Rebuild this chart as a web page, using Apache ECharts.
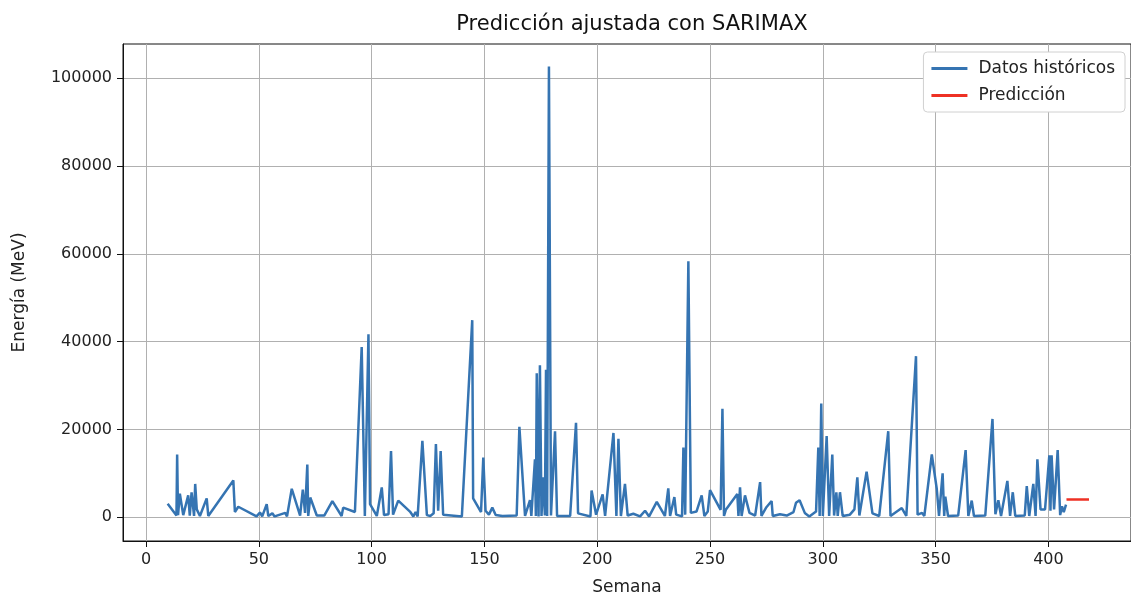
<!DOCTYPE html>
<html>
<head>
<meta charset="utf-8">
<script src="https://cdn.jsdelivr.net/npm/echarts@6/dist/echarts.min.js"></script>
<style>
  html, body { margin: 0; padding: 0; background: #fff; }
  #grafico { width: 1131px; height: 601px; }
</style>
</head>
<body>
<div id="grafico"></div>
<script>
// Semanas y energía de los datos históricos
var semanas = [
  9.6, 13.5, 13.8, 14.2, 15, 16.5, 18.7, 19.4, 20.2, 21.3, 21.8, 22.5, 23.9, 26.9, 27.6,
  38.7, 39.4, 40.9, 49, 50.5, 51.5, 53.5, 54.2, 56, 57, 61.7, 62.5, 64.6, 68.3, 69.5,
  70.5, 71.5, 71.9, 72.8, 75.7, 79, 82.6, 86.7, 87.4, 92.6, 95.6, 97, 98.6, 99.3, 102.3,
  104.5, 105.5, 107.5, 108.6, 109.5, 111.8, 117, 118.5, 119.5, 120.4, 122.5, 124.5, 126, 127.5, 128.5,
  129.5, 130.6, 131.7, 140, 144.6, 145, 148.5, 149.5, 150.5, 152, 153.5, 155, 158, 164.3, 165.5,
  168, 170.2, 170.8, 172.4, 172.8, 173.2, 174, 174.6, 175.3, 176.1, 176.8, 177.3, 177.8, 178.6, 179.5,
  181.3, 182.2, 188, 190.6, 191.5, 197, 197.5, 199.5, 202.4, 203.5, 207.2, 208.5, 209.4, 210.5, 212.3,
  213.5, 216, 219, 221.2, 223, 226.4, 230, 231.5, 232.3, 234.2, 235, 237.6, 238.2, 239, 240.4,
  241.5, 244, 246.3, 247.5, 249, 250, 254.7, 255.5, 256.2, 257, 262.1, 262.6, 263.3, 264, 265.5,
  267.5, 270, 272.2, 272.8, 275, 277.3, 277.8, 281, 284, 287, 288.1, 289.7, 292, 294, 297,
  298, 298.6, 299.3, 300, 301.7, 302.8, 304.2, 305, 306, 306.6, 307.6, 308.8, 312, 314, 315.3,
  316.2, 319.4, 322, 325, 329, 330, 335, 337, 341.3, 342, 344, 345, 348.3, 350.5, 351.5,
  353.1, 353.8, 354.3, 355.5, 360, 363.3, 364.5, 366, 367, 372, 375.2, 376.5, 377.8, 379, 381.8,
  383, 384.2, 385.3, 389.5, 390.4, 391.5, 393.3, 394.3, 395.1, 396.5, 398.5, 400.4, 400.9, 401.4, 402.5,
  404.1, 405.2, 406, 406.8, 407.8
];
var energia = [
  3100, 400, 14300, 500, 5400, 500, 5000, 400, 5700, 300, 7600, 1800, 300, 4300, 300,
  8400, 1200, 2400, 200, 1100, 200, 3000, 300, 900, 200, 1000, 200, 6500, 400, 6300,
  1000, 12000, 300, 4500, 400, 400, 3700, 300, 2200, 1200, 38800, 300, 41700, 3000, 300,
  6800, 500, 700, 15100, 600, 3800, 1300, 200, 1200, 200, 17400, 500, 300, 900, 16700,
  1500, 15100, 600, 200, 44900, 4300, 1200, 13600, 1500, 600, 2200, 500, 300, 400, 20600,
  300, 3900, 300, 13200, 300, 32800, 200, 34600, 300, 9100, 400, 33600, 300, 102700, 400,
  19600, 300, 300, 21500, 900, 200, 6100, 600, 5200, 300, 19200, 300, 17900, 300, 7600,
  400, 800, 200, 1500, 200, 3500, 300, 6600, 300, 4600, 600, 200, 15900, 600, 58300,
  1000, 1300, 5000, 300, 1300, 6200, 1700, 24700, 300, 1700, 5300, 300, 6800, 300, 5000,
  1000, 400, 8000, 300, 2300, 3700, 300, 700, 400, 1200, 3300, 3900, 1000, 200, 1300,
  15900, 300, 25900, 300, 18500, 300, 14300, 400, 5700, 300, 5700, 300, 600, 1800, 9100,
  400, 10400, 900, 300, 19600, 300, 2100, 300, 36700, 600, 1000, 300, 14300, 6500, 300,
  10000, 300, 4700, 300, 400, 15300, 300, 3800, 300, 400, 22400, 700, 3900, 300, 8300,
  300, 5700, 300, 400, 7100, 300, 7600, 300, 13200, 1800, 1800, 14100, 1500, 14100, 1800,
  15300, 500, 2500, 1200, 2900
];

// Predicción SARIMAX
var semanasPred = [408, 409, 410, 411, 412, 413, 414, 415, 416, 417, 418];
var energiaPred = [4050, 4080, 4060, 4070, 4060, 4070, 4060, 4065, 4060, 4065, 4060];

var ticksX = [0, 50, 100, 150, 200, 250, 300, 350, 400];
var ticksY = [0, 20000, 40000, 60000, 80000, 100000];

function pares(xs, ys) {
  var out = [];
  for (var i in xs)
    out.push([xs[i], ys[i]]);
  return out;
}

var chart = echarts.init(document.getElementById('grafico'), null, { renderer: 'canvas' });
var fuente = 'DejaVu Sans';

var option = {
  animation: false,
  textStyle: { fontFamily: fuente },
  title: {
    text: 'Predicción ajustada con SARIMAX',
    left: 627, top: 9, textAlign: 'center',
    textStyle: { fontFamily: fuente, fontSize: 21, fontWeight: 'normal', color: '#111' }
  },
  grid: {
    left: 123, top: 44, right: 0, bottom: 51,
    show: true, borderColor: '#111', borderWidth: 1, backgroundColor: 'transparent'
  },
  legend: {
    orient: 'vertical',
    right: 6, top: 52,
    padding: [8, 10, 8, 8],
    itemGap: 10,
    itemWidth: 36, itemHeight: 3,
    icon: 'rect',
    borderColor: '#d0d0d0', borderWidth: 1, borderRadius: 4,
    backgroundColor: '#fff',
    textStyle: { fontFamily: fuente, fontSize: 17, color: '#222', padding: [0, 0, 0, 6] },
    data: ['Datos históricos', 'Predicción']
  },
  xAxis: {
    type: 'value',
    min: -10.2, max: 436.6,
    name: 'Semana', nameLocation: 'middle', nameGap: 38,
    nameTextStyle: { fontFamily: fuente, fontSize: 17, color: '#222' },
    axisLine: { show: true, onZero: false, lineStyle: { color: '#111' } },
    axisTick: { show: true, length: 6, lineStyle: { color: '#111' }, customValues: ticksX },
    axisLabel: { fontSize: 16, color: '#222', margin: 11, customValues: ticksX },
    splitLine: { show: true, lineStyle: { color: '#b0b0b0', width: 1 } }
  },
  yAxis: {
    type: 'value',
    min: -5400, max: 107800,
    name: 'Energía (MeV)', nameLocation: 'middle', nameGap: 95, nameRotate: 90,
    nameTextStyle: { fontFamily: fuente, fontSize: 17, color: '#222' },
    axisLine: { show: true, onZero: false, lineStyle: { color: '#111' } },
    axisTick: { show: true, length: 6, lineStyle: { color: '#111' }, customValues: ticksY },
    axisLabel: {
      fontSize: 16, color: '#222', margin: 11, customValues: ticksY,
      formatter: function (v) { return String(v); }
    },
    splitLine: { show: true, lineStyle: { color: '#b0b0b0', width: 1 } }
  },
  series: [
    {
      name: 'Datos históricos',
      type: 'line',
      data: pares(semanas, energia),
      showSymbol: false,
      symbol: 'none',
      itemStyle: { color: '#3574b2' },
      lineStyle: { color: '#3574b2', width: 2.5 },
      clip: true
    },
    {
      name: 'Predicción',
      type: 'line',
      data: pares(semanasPred, energiaPred),
      showSymbol: false,
      symbol: 'none',
      itemStyle: { color: '#ee3124' },
      lineStyle: { color: '#ee3124', width: 2.5 }
    }
  ]
};
chart.setOption(option);
</script>
</body>
</html>
